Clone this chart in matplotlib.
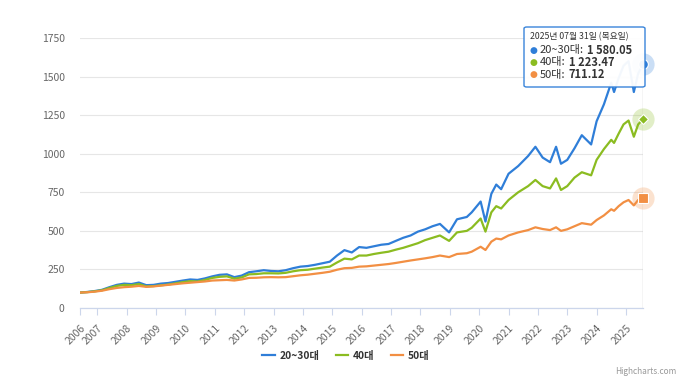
import matplotlib
matplotlib.use("Agg")
import matplotlib.pyplot as plt
from matplotlib.patches import FancyBboxPatch
import pandas as pd

plt.rcParams['font.family'] = ['Noto Sans CJK KR', 'DejaVu Sans']

dates = [
    "2006-05-31", "2006-09-01", "2006-12-01",
    "2007-03-01", "2007-06-01", "2007-09-01", "2007-12-01",
    "2008-03-01", "2008-06-01", "2008-09-01", "2008-12-01",
    "2009-03-01", "2009-06-01", "2009-09-01", "2009-12-01",
    "2010-03-01", "2010-06-01", "2010-09-01", "2010-12-01",
    "2011-03-01", "2011-06-01", "2011-09-01", "2011-12-01",
    "2012-03-01", "2012-06-01", "2012-09-01", "2012-12-01",
    "2013-03-01", "2013-06-01", "2013-09-01", "2013-12-01",
    "2014-03-01", "2014-06-01", "2014-09-01", "2014-12-01",
    "2015-03-01", "2015-06-01", "2015-09-01", "2015-12-01",
    "2016-03-01", "2016-06-01", "2016-09-01", "2016-12-01",
    "2017-03-01", "2017-06-01", "2017-09-01", "2017-12-01",
    "2018-03-01", "2018-06-01", "2018-09-01", "2018-12-24",
    "2019-04-01", "2019-08-01", "2019-10-01", "2020-01-20",
    "2020-03-20", "2020-06-01", "2020-08-01", "2020-10-01",
    "2021-01-01", "2021-05-01", "2021-09-01", "2021-12-01",
    "2022-03-01", "2022-06-01", "2022-08-15", "2022-10-15",
    "2023-01-01", "2023-04-01", "2023-07-01", "2023-10-25",
    "2024-01-01", "2024-04-01", "2024-07-01", "2024-08-05",
    "2024-10-01", "2024-12-01", "2025-02-01", "2025-04-08",
    "2025-06-01", "2025-07-31",
]

age_2030 = [
    100, 104, 110,
    118, 135, 150, 158,
    155, 165, 148, 150,
    158, 162, 170, 178,
    185, 182, 192, 205,
    215, 218, 200, 210,
    232, 238, 245, 240,
    238, 245, 258, 268,
    272, 280, 290, 300,
    340, 375, 360, 395,
    390, 400, 410, 415,
    435, 455, 470, 495,
    510, 530, 545, 490,
    575, 590, 620, 690,
    560, 740, 800, 770,
    870, 920, 985, 1045,
    975, 945, 1045, 935,
    960, 1035, 1120, 1060,
    1210, 1320, 1460, 1400,
    1490, 1570, 1600, 1400,
    1520, 1580.05,
]

age_40 = [
    100, 103, 108,
    115, 130, 143, 150,
    148, 155, 140, 142,
    147, 152, 160, 168,
    174, 172, 182, 195,
    202, 205, 190, 198,
    218, 220, 225, 225,
    224, 228, 238, 245,
    248, 255, 262, 268,
    295, 320, 315, 340,
    340, 350, 358, 365,
    378, 390, 405, 420,
    440, 455, 470, 435,
    490, 500, 520, 580,
    495, 620, 660, 645,
    700, 750, 790, 830,
    790, 775, 840, 765,
    790, 845, 880, 860,
    960, 1030, 1090, 1070,
    1130, 1190, 1215, 1110,
    1190, 1223.47,
]

age_50 = [
    100, 102, 106,
    112, 122, 130, 135,
    138, 143, 137, 140,
    145, 150, 155, 160,
    164, 168, 172, 178,
    180, 182, 178, 185,
    195, 196, 199, 200,
    199, 200, 206, 212,
    216, 222, 228, 235,
    248, 258, 260, 268,
    270, 275, 280, 285,
    292, 300, 308, 315,
    322, 330, 340, 330,
    350, 355, 365, 397,
    376, 430, 450, 445,
    470, 490, 505, 523,
    512, 505, 523, 500,
    510, 530, 550, 540,
    570, 600, 640, 630,
    660, 685, 700, 665,
    700, 711.12,
]

series_names = ["20~30대", "40대", "50대"]
series_colors = ["#2f7ed8", "#8bbc21", "#f28f43"]
yticks = [0, 250, 500, 750, 1000, 1250, 1500, 1750]
year_labels = [str(y) for y in range(2006, 2026)]

W, H = 680, 378
fig = plt.figure(figsize=(W / 100, H / 100), dpi=100)
ax = fig.add_axes([80 / W, 1 - 308 / H, (643 - 80) / W, (308 - 38) / H])

x = pd.to_datetime(dates)
data = [age_2030, age_40, age_50]
lines = []
for vals, name, col in zip(data, series_names, series_colors):
    ln, = ax.plot(x, vals, color=col, lw=1.6, label=name, solid_joinstyle='round', zorder=3)
    lines.append(ln)

ax.set_xlim(x[0], x[-1])
ax.set_ylim(0, 1750)
ax.set_yticks(yticks)
ax.set_yticklabels([str(v) for v in yticks])
ax.grid(axis='y', color='#e6e6e6', lw=0.8)
ax.set_axisbelow(True)
for s in ['top', 'right', 'left']:
    ax.spines[s].set_visible(False)
ax.spines['bottom'].set_color('#ccd6eb')
ax.spines['bottom'].set_linewidth(0.9)
ax.tick_params(axis='y', length=0, labelsize=7.5, labelcolor='#666666', pad=11)

tick_dates = [x[0]] + [pd.Timestamp(f"{y}-01-01") for y in range(2007, 2026)]
ax.set_xticks(tick_dates)
ax.set_xticklabels(year_labels, rotation=45, ha='right', va='top', rotation_mode='anchor')
ax.tick_params(axis='x', length=5, color='#ccd6eb', labelsize=7.5, labelcolor='#666666', pad=6)

# crosshair
ax.axvline(x[-1], color='#cccccc', lw=1, zorder=1)

# end markers with halo
markers = ['o', 'D', 's']
msizes = [7, 5, 6.5]
for vals, col, mk, ms in zip(data, series_colors, markers, msizes):
    ax.plot([x[-1]], [vals[-1]], marker='o', ms=16, color=col, alpha=0.25, mec='none', clip_on=False, zorder=4)
    ax.plot([x[-1]], [vals[-1]], marker=mk, ms=ms, color=col, mec='white', mew=0.8, clip_on=False, zorder=5)

# legend
leg = fig.legend(handles=lines, labels=series_names, loc='center', bbox_to_anchor=(346 / W, 1 - 356 / H),
                 ncol=3, frameon=False, fontsize=7.4, handlelength=1.2, handletextpad=0.45, columnspacing=1.6)
for t in leg.get_texts():
    t.set_color('#333333')
    t.set_fontweight('bold')

# tooltip
def fx(px):
    return px / W

def fy(py):
    return 1 - py / H

box = FancyBboxPatch((fx(524), fy(87)), fx(645) - fx(524), fy(27) - fy(87),
                     boxstyle="round,pad=0,rounding_size=0.004", transform=fig.transFigure,
                     facecolor='white', edgecolor='#2f7ed8', lw=1.0, alpha=0.95, zorder=10)
fig.add_artist(box)
fig.text(fx(530), fy(37), "2025년 07월 31일 (목요일)", fontsize=6.3, color='#333333', va='center', zorder=11)

renderer = fig.canvas.get_renderer()
rows_y = [50, 62.5, 75]
for vals, name, col, ry in zip(data, series_names, series_colors, rows_y):
    fig.text(fx(529), fy(ry), "●", fontsize=6.5, color=col, va='center', zorder=11, family=['DejaVu Sans'])
    t = fig.text(fx(540), fy(ry), f"{name}:", fontsize=8, color='#333333', va='center', zorder=11)
    bb = t.get_window_extent(renderer=renderer)
    v = f"{vals[-1]:,.2f}".replace(",", " ")
    fig.text((bb.x1 + 3) / W, fy(ry), v, fontsize=8, color='#333333', fontweight='bold', va='center', zorder=11)

fig.text(fx(676), fy(372), "Highcharts.com", fontsize=6, color='#999999', ha='right', va='center')

fig.savefig("out.png", dpi=100)
